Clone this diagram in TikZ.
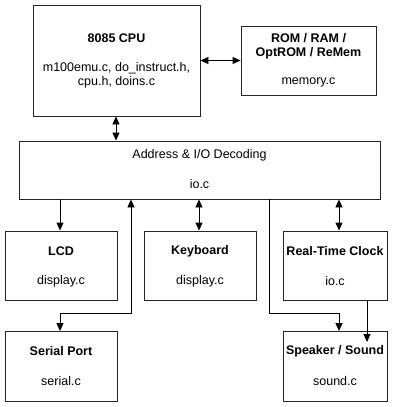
\documentclass[tikz,border=0pt]{standalone}
\usepackage{fontspec}
\setmainfont{Liberation Sans}
\usetikzlibrary{arrows.meta}
\begin{document}
\begin{tikzpicture}[x=1pt,y=-1pt,
  box/.style={draw=black!85,line width=0.9pt,inner sep=0pt,rectangle},
  txt/.style={inner sep=0pt,font=\fontsize{12.5}{14}\selectfont,align=center},
  ttl/.style={txt,font=\fontsize{12.5}{14}\selectfont\bfseries},
  conn/.style={line width=0.9pt,draw=black},
  tip/.style={-{Triangle[length=8pt,width=7pt]}},
  tips/.style={{Triangle[length=8pt,width=7pt]}-{Triangle[length=8pt,width=7pt]}}]
\useasboundingbox[fill=white] (0,0) rectangle (400,407);
% boxes
\node[box,minimum width=167pt,minimum height=111pt] (cpu) at (116.5,60.5) {};
\node[box,minimum width=135pt,minimum height=69pt] (rom) at (308.5,60.5) {};
\node[box,minimum width=361pt,minimum height=58pt] (dec) at (199.5,170) {};
\node[box,minimum width=112pt,minimum height=69pt] (lcd) at (61,265.5) {};
\node[box,minimum width=112pt,minimum height=69pt] (kb) at (200,265.5) {};
\node[box,minimum width=104pt,minimum height=69pt] (rtc) at (335,265.5) {};
\node[box,minimum width=112pt,minimum height=70pt] (ser) at (61,366.5) {};
\node[box,minimum width=104pt,minimum height=70pt] (spk) at (335,366.5) {};
% texts
\node[ttl] (cpuT) at (116.5,38) {8085 CPU};
\node[txt] (cpuF1) at (116.5,68) {m100emu.c, do\_instruct.h,};
\node[txt] (cpuF2) at (116.5,82) {cpu.h, doins.c};
\node[ttl] (romT1) at (308.5,38) {ROM / RAM /};
\node[ttl] (romT2) at (308.5,53) {OptROM / ReMem};
\node[txt] (romF) at (308.5,82) {memory.c};
\node[txt] (decT) at (199.5,155) {Address \& I/O Decoding};
\node[txt] (decF) at (199.5,184) {io.c};
\node[ttl] (lcdT) at (61,251) {LCD};
\node[txt] (lcdF) at (61,281) {display.c};
\node[ttl] (kbT) at (200,251) {Keyboard};
\node[txt] (kbF) at (200,281) {display.c};
\node[ttl] (rtcT) at (335,251) {Real-Time Clock};
\node[txt] (rtcF) at (335,281) {io.c};
\node[ttl] (serT) at (61,351) {Serial Port};
\node[txt] (serF) at (61,381) {serial.c};
\node[ttl] (spkT) at (335,351) {Speaker / Sound};
\node[txt] (spkF) at (335,381) {sound.c};
% helper coordinates
\coordinate (cx) at (116,0);
\coordinate (lx) at (60,0);
\coordinate (sx) at (131,0);
\coordinate (kx) at (199,0);
\coordinate (px) at (269,0);
\coordinate (rx) at (339,0);
\coordinate (qx) at (367,0);
\coordinate (s1) at (131,313);
\coordinate (s2) at (60,313);
\coordinate (p1) at (269,313);
\coordinate (p2) at (339,313);
\coordinate (qend) at (367,342);
% connectors
\draw[conn,tips] (cpu.east) -- (rom.west);
\draw[conn,tips] (cx |- cpu.south) -- (cx |- dec.north);
\draw[conn,tip] (lx |- dec.south) -- (lx |- lcd.north);
\draw[conn,tips] (sx |- dec.south) -- (s1) -- (s2) -- (s2 |- ser.north);
\draw[conn,tips] (kx |- dec.south) -- (kx |- kb.north);
\draw[conn,tip] (px |- dec.south) -- (p1) -- (p2) -- (p2 |- spk.north);
\draw[conn,tips] (rx |- dec.south) -- (rx |- rtc.north);
\draw[conn,tip] (qx |- rtc.south) -- (qend);
\end{tikzpicture}
\end{document}
